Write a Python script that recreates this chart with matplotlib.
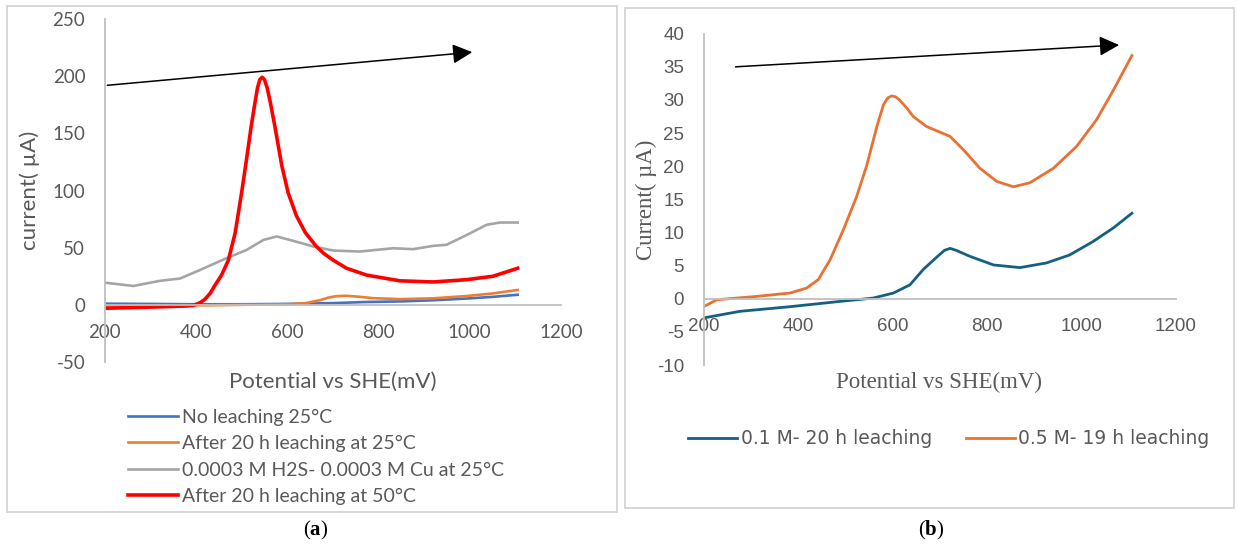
import matplotlib
matplotlib.use('Agg')
import matplotlib.pyplot as plt
from matplotlib.patches import Rectangle

plt.rcParams['mathtext.fontset'] = 'custom'
plt.rcParams['mathtext.rm'] = 'Liberation Serif'
plt.rcParams['mathtext.bf'] = 'Liberation Serif:bold'
plt.rcParams['axes.unicode_minus'] = False

# ---- panel (a) data: potential (mV) vs current (uA)
pot_a_blue = [200, 300, 400, 500, 600, 700, 774, 850, 920, 993, 1051, 1105]
cur_a_blue = [1, 0.8, 0.5, 0.5, 0.8, 1.5, 2.5, 3, 4, 5.5, 7, 8.8]

pot_a_orange = [200, 300, 400, 500, 600, 640, 671, 690, 708, 730, 760, 789, 847, 920,
                993, 1051, 1105]
cur_a_orange = [-1.5, -1, -0.5, 0, 0.5, 1.5, 4, 6.3, 7.6, 7.9, 7.0, 5.8, 5, 5.7,
                7.7, 10, 13]

pot_a_gray = [200, 263, 321, 365, 409, 467, 511, 548, 577, 613, 657, 701, 759, 832,
              876, 920, 949, 993, 1037, 1066, 1105]
cur_a_gray = [19.4, 16.5, 21, 23, 30.5, 40.8, 48, 56.8, 59.8, 56, 51, 47.5, 46.6, 49.5,
              48.7, 51.6, 52.5, 61, 70, 72, 72]

pot_a_red = [200, 300, 380, 394, 410, 420, 431, 440, 456, 471, 486, 500, 510, 521, 529,
             535, 540, 545, 550, 556, 563, 573, 588, 602, 620, 640, 664, 680, 701, 730,
             774, 847, 920, 993, 1051, 1105]
cur_a_red = [-3, -2, -1, -0.5, 2, 5, 10, 16, 26, 39, 63, 98, 125, 156, 176,
             190, 197, 199, 197, 190, 177, 156, 122, 98, 78, 63, 51, 45, 39, 32,
             26, 21, 20, 22, 25, 32]

labels_a = ['No leaching 25°C', 'After 20 h leaching at 25°C',
            '0.0003 M H2S- 0.0003 M Cu at 25°C', 'After 20 h leaching at 50°C']

# ---- panel (b) data
pot_b_blue = [200, 277, 383, 489, 559, 602, 637, 665, 694, 710, 722, 735, 764, 814, 870,
              926, 975, 1024, 1068, 1107]
cur_b_blue = [-2.9, -1.9, -1.2, -0.4, 0.1, 0.86, 2.1, 4.4, 6.3, 7.3, 7.6, 7.3, 6.4, 5.1, 4.7,
              5.4, 6.6, 8.6, 10.7, 12.9]

pot_b_orange = [200, 228, 312, 383, 418, 443, 468, 496, 524, 545, 567, 581, 590, 598, 606,
                615, 630, 644, 672, 722, 750, 785, 821, 856, 891, 941, 990, 1032, 1068,
                1107]
cur_b_orange = [-1.2, -0.15, 0.35, 0.86, 1.6, 2.9, 5.9, 10.4, 15.4, 20, 26, 29.3, 30.3, 30.6,
                30.5, 30, 28.8, 27.5, 26, 24.5, 22.5, 19.7, 17.7, 16.9, 17.5, 19.7, 23, 27,
                31.5, 36.7]

labels_b = ['0.1 M- 20 h leaching', '0.5 M- 19 h leaching']

arrow_a = [(205.7, 192), (1005.6, 221)]
arrow_b = [(267.6, 35.0), (1080, 38.3)]

W, H = 1238, 545
fig = plt.figure(figsize=(W / 100, H / 100), dpi=100)


def fx(px):
    return px / W


def fy(py):
    return 1 - py / H


# panel frames
for x0, y0, x1, y1 in [(7, 6, 617, 512), (625, 8, 1234, 508)]:
    fig.patches.append(Rectangle((fx(x0), fy(y1)), fx(x1 - x0), (y1 - y0) / H,
                                 transform=fig.transFigure, fill=False,
                                 edgecolor='#d4d4d4', lw=1.3))

axis_col = '#bfbfbf'
text_col = '#595959'


def style_axis(ax, font, size):
    for s in ['top', 'right']:
        ax.spines[s].set_visible(False)
    ax.spines['bottom'].set_position(('data', 0))
    for s in ['left', 'bottom']:
        ax.spines[s].set_color(axis_col)
        ax.spines[s].set_linewidth(1.3)
    ax.tick_params(length=0, labelcolor=text_col, labelsize=size, pad=14)
    for lab in ax.get_xticklabels() + ax.get_yticklabels():
        lab.set_fontfamily(font)
    ax.patch.set_alpha(0)


# ---- (a)
ax1 = fig.add_axes([fx(104.7), fy(362), fx(561 - 104.7), (362 - 19) / H])
l1, = ax1.plot(pot_a_blue, cur_a_blue, color='#4472C4', lw=1.9)
l2, = ax1.plot(pot_a_orange, cur_a_orange, color='#ED7D31', lw=1.9)
l3, = ax1.plot(pot_a_gray, cur_a_gray, color='#A5A5A5', lw=1.9)
l4, = ax1.plot(pot_a_red, cur_a_red, color='#FF0000', lw=2.6)
ax1.set_xlim(200, 1200)
ax1.set_ylim(-50, 250)
ax1.set_xticks(range(200, 1201, 200))
ax1.set_yticks(range(-50, 251, 50))
style_axis(ax1, 'Lato', 13.5)
ax1.annotate('', xy=arrow_a[1], xytext=arrow_a[0],
             arrowprops=dict(arrowstyle='-|>,head_length=0.6,head_width=0.3',
                             mutation_scale=20, color='black', lw=1.1,
                             shrinkA=0, shrinkB=0), annotation_clip=False)
fig.text(fx(333), fy(382), 'Potential vs SHE(mV)', family='Lato', size=16,
         color=text_col, ha='center', va='center')
fig.text(fx(30), fy(190), 'current( µA)', family='Lato', size=16,
         color=text_col, ha='center', va='center', rotation=90)
fig.legend([l1, l2, l3, l4], labels_a, loc='upper left',
           bbox_to_anchor=(fx(118), fy(399)), frameon=False, borderpad=0,
           handlelength=2.6, handletextpad=0.2, labelspacing=0.48,
           prop={'family': 'Lato', 'size': 14}, labelcolor=text_col)

# ---- (b)
ax2 = fig.add_axes([fx(703.6), fy(365), fx(1175.8 - 703.6), (365 - 33.7) / H])
m1, = ax2.plot(pot_b_blue, cur_b_blue, color='#156082', lw=2.0)
m2, = ax2.plot(pot_b_orange, cur_b_orange, color='#E97132', lw=2.0)
ax2.set_xlim(200, 1200)
ax2.set_ylim(-10, 40)
ax2.set_xticks(range(200, 1201, 200))
ax2.set_yticks(range(-10, 41, 5))
style_axis(ax2, 'Liberation Sans', 13.5)
ax2.annotate('', xy=arrow_b[1], xytext=arrow_b[0],
             arrowprops=dict(arrowstyle='-|>,head_length=0.6,head_width=0.3',
                             mutation_scale=20, color='black', lw=1.1,
                             shrinkA=0, shrinkB=0), annotation_clip=False)
fig.text(fx(939), fy(382), 'Potential vs SHE(mV)', family='Liberation Serif', size=16.5,
         color=text_col, ha='center', va='center')
fig.text(fx(646), fy(200), 'Current( µA)', family='Liberation Serif', size=16.5,
         color=text_col, ha='center', va='center', rotation=90)
fig.legend([m1, m2], labels_b, loc='center left', ncol=2,
           bbox_to_anchor=(fx(679), fy(439)), frameon=False, borderpad=0,
           handlelength=2.6, handletextpad=0.2, columnspacing=1.8,
           prop={'family': 'DejaVu Sans', 'size': 13.5}, labelcolor=text_col)

# panel captions
fig.text(fx(316), fy(530), r'($\mathbf{a}$)', size=15, ha='center', va='center',
         family='Liberation Serif')
fig.text(fx(931), fy(530), r'($\mathbf{b}$)', size=15, ha='center', va='center',
         family='Liberation Serif')

fig.savefig('out.png', dpi=100)
